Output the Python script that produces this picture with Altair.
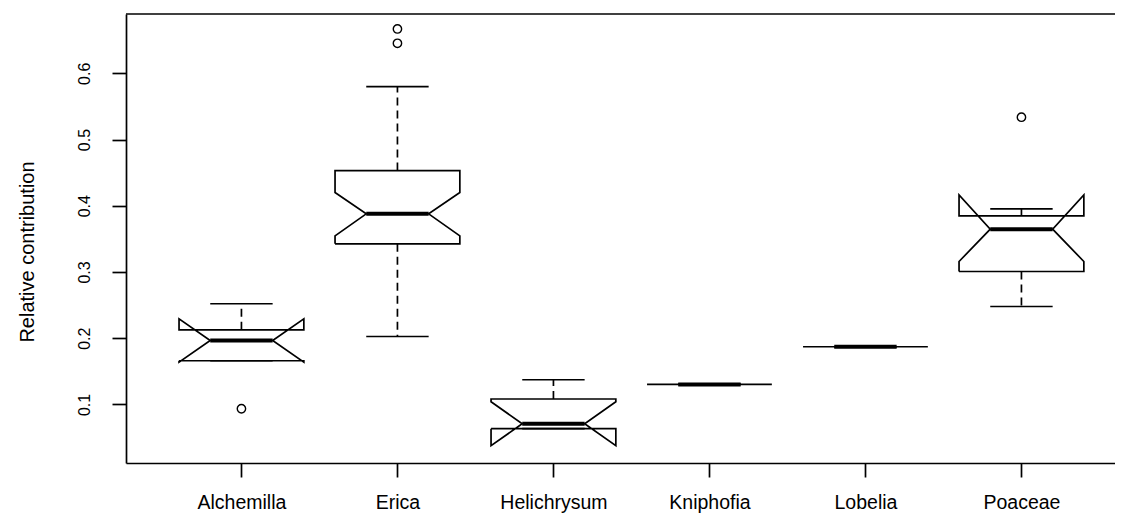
import altair as alt
import pandas as pd

categories = ["Alchemilla", "Erica", "Helichrysum", "Kniphofia", "Lobelia", "Poaceae"]
whisker_low = [0.166, 0.2026, 0.0634, 0.1302, 0.1871, 0.2479]
q1 = [0.166, 0.3425, 0.0634, 0.1302, 0.1871, 0.3007]
notch_low = [0.1639, 0.3546, 0.0377, 0.1302, 0.1871, 0.3158]
median = [0.1966, 0.3878, 0.0709, 0.1302, 0.1871, 0.3647]
notch_high = [0.2293, 0.4199, 0.1041, 0.1302, 0.1871, 0.4164]
q3 = [0.2127, 0.4531, 0.1082, 0.1302, 0.1871, 0.3847]
whisker_high = [0.252, 0.5798, 0.1373, 0.1302, 0.1871, 0.3953]
outlier_cat = ["Alchemilla", "Erica", "Erica", "Poaceae"]
outlier_val = [0.0935, 0.6669, 0.6453, 0.5337]
y_ticks = [0.1, 0.2, 0.3, 0.4, 0.5, 0.6]

W, H = 989, 449
HALF = 0.4          # half box width (boxwex 0.8)
NOTCH = 0.5         # notch fraction
STAPLE = 0.5        # staple fraction
LW = 1.7

xscale = alt.Scale(domain=[0.26, 6.5997], nice=False, zero=False)
yscale = alt.Scale(domain=[0.0116, 0.6895], nice=False, zero=False)

# polygon outlines (R bxp notched box)
poly_rows = []
xf = [-1, 1, 1, NOTCH, 1, 1, -1, -1, -NOTCH, -1, -1]
for i, c in enumerate(categories):
    xc = i + 1
    yv = [q1[i], q1[i], notch_low[i], median[i], notch_high[i], q3[i], q3[i],
          notch_high[i], median[i], notch_low[i], q1[i]]
    for k, (fx, yy) in enumerate(zip(xf, yv)):
        poly_rows.append({"cat": c, "k": k, "x": xc + HALF * fx, "y": yy})
poly = pd.DataFrame(poly_rows)

stats = pd.DataFrame({
    "cat": categories,
    "xc": [i + 1 for i in range(len(categories))],
    "q1": q1, "q3": q3, "med": median,
    "wlo": whisker_low, "whi": whisker_high,
})
stats["ml"] = stats["xc"] - HALF * NOTCH
stats["mr"] = stats["xc"] + HALF * NOTCH
stats["sl"] = stats["xc"] - HALF * STAPLE
stats["sr"] = stats["xc"] + HALF * STAPLE

outl = pd.DataFrame({
    "x": [categories.index(c) + 1 for c in outlier_cat],
    "y": outlier_val,
})

label_expr = "[" + ",".join("'" + c + "'" for c in categories) + "][datum.value - 1]"

xaxis = alt.Axis(values=[1, 2, 3, 4, 5, 6], labelExpr=label_expr, title=None, grid=False,
                 tickSize=14, tickWidth=LW, tickColor="black", domainColor="black",
                 domainWidth=LW, labelPadding=31, labelFontSize=19.5, labelColor="black",
                 labelFont="Liberation Sans", labelBaseline="alphabetic", labelFlush=False,
                 labelOverlap=False)
yaxis = alt.Axis(values=y_ticks, format=".1f", grid=False, title="Relative contribution",
                 tickSize=14, tickWidth=LW, tickColor="black", domainColor="black",
                 domainWidth=LW, labelAngle=270, labelAlign="center",
                 labelBaseline="alphabetic", labelPadding=23, labelFontSize=16,
                 labelColor="black", labelFont="Liberation Sans", titleAngle=270,
                 titleX=-93, titleY=237.5, titleAlign="center", titleBaseline="alphabetic",
                 titleFontSize=20, titleFontWeight="normal", titleFont="Liberation Sans",
                 titleColor="black")

boxes = alt.Chart(poly).mark_line(color="black", strokeWidth=LW).encode(
    x=alt.X("x:Q", scale=xscale, axis=xaxis),
    y=alt.Y("y:Q", scale=yscale, axis=yaxis),
    detail="cat:N",
    order="k:Q",
)

base = alt.Chart(stats)
med = base.mark_rule(color="black", strokeWidth=4).encode(
    x=alt.X("ml:Q", scale=xscale), x2="mr:Q", y=alt.Y("med:Q", scale=yscale))
wup = base.mark_rule(color="black", strokeWidth=LW, strokeDash=[8, 5]).encode(
    x=alt.X("xc:Q", scale=xscale), y=alt.Y("q3:Q", scale=yscale), y2="whi:Q")
wdn = base.mark_rule(color="black", strokeWidth=LW, strokeDash=[8, 5]).encode(
    x=alt.X("xc:Q", scale=xscale), y=alt.Y("q1:Q", scale=yscale), y2="wlo:Q")
sup = base.mark_rule(color="black", strokeWidth=LW).encode(
    x=alt.X("sl:Q", scale=xscale), x2="sr:Q", y=alt.Y("whi:Q", scale=yscale))
sdn = base.mark_rule(color="black", strokeWidth=LW).encode(
    x=alt.X("sl:Q", scale=xscale), x2="sr:Q", y=alt.Y("wlo:Q", scale=yscale))

pts = alt.Chart(outl).mark_point(shape="circle", filled=False, color="black",
                                 size=70, strokeWidth=1.4, opacity=1).encode(
    x=alt.X("x:Q", scale=xscale), y=alt.Y("y:Q", scale=yscale))

top = alt.Chart(pd.DataFrame({"a": [0]})).mark_rule(color="black", strokeWidth=LW).encode(
    x=alt.value(0), x2=alt.value(W), y=alt.value(0))

chart = alt.layer(boxes, med, wup, wdn, sup, sdn, pts, top).properties(
    width=W, height=H,
    autosize=alt.AutoSizeParams(type="none"),
    padding={"left": 118, "top": 6, "right": 0, "bottom": 50},
    background="white",
).configure_view(stroke=None)

chart.save("out.html", embed_options={"renderer": "svg", "actions": False})
